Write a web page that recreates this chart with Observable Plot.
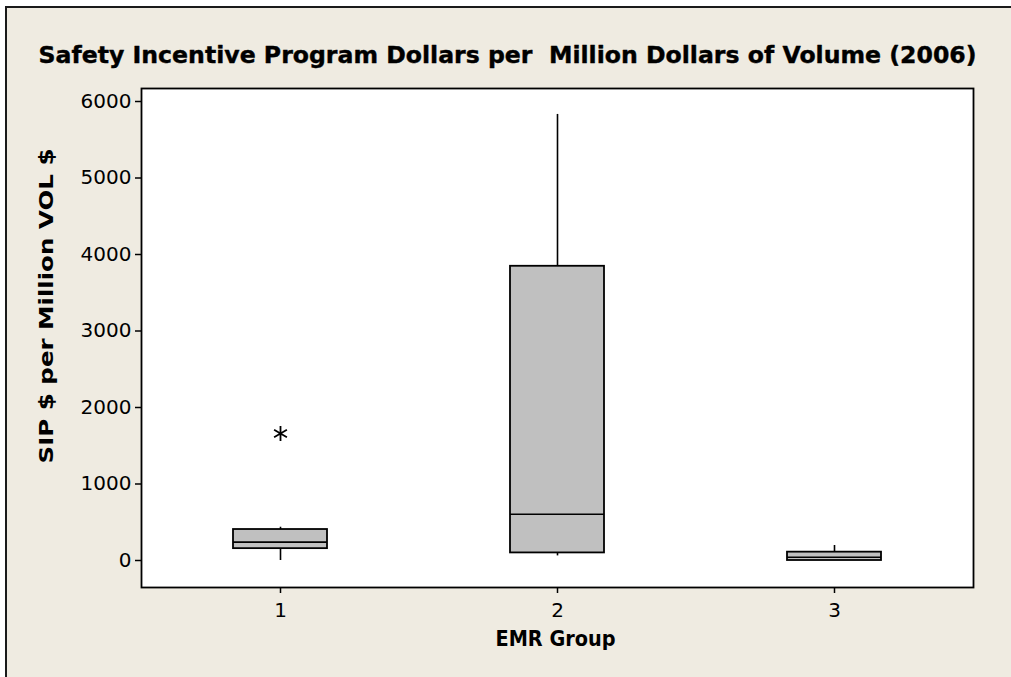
<!DOCTYPE html>
<html>
<head>
<meta charset="utf-8">
<script src="https://cdn.jsdelivr.net/npm/d3@7"></script>
<script src="https://cdn.jsdelivr.net/npm/@observablehq/plot@0.6"></script>
<style>
  html, body { margin: 0; padding: 0; background: #ffffff; overflow: hidden; }
  #wrap { position: relative; width: 1011px; height: 677px; overflow: hidden; }
  #panel { position: absolute; left: 5px; top: 6px; width: 1100px; height: 800px;
           background: #efebe1; border-left: 2px solid #1a1a1a; border-top: 2px solid #1a1a1a; }
  #chart { position: absolute; left: 0; top: 0; }
</style>
</head>
<body>
<div id="wrap"><div id="panel"></div><div id="chart"></div></div>
<script>
const title = "Safety Incentive Program Dollars per\u00a0 Million Dollars of Volume (2006)";
const yLabel = "SIP $ per Million VOL $";
const xLabel = "EMR Group";

const groups      = ["1", "2", "3"];
const whiskerLow  = [0, 60, 0];
const q1          = [155, 99, 0];
const median      = [240, 604, 43];
const q3          = [405, 3846, 109];
const whiskerHigh = [435, 5831, 196];

const outlierGroups = ["1"];
const outlierValues = [1660];

const yTicks = [0, 1000, 2000, 3000, 4000, 5000, 6000];

const boxes = groups.map((g, i) => ({
  g, lo: whiskerLow[i], q1: q1[i], med: median[i], q3: q3[i], hi: whiskerHigh[i]
}));
const outliers = outlierGroups.map((g, i) => ({g, v: outlierValues[i]}));

const chart = Plot.plot({
  width: 1011,
  height: 677,
  marginLeft: 141,
  marginRight: 38,
  marginTop: 88,
  marginBottom: 90,
  style: {background: "transparent", fontFamily: "DejaVu Sans", fontSize: "20px", color: "black", overflow: "visible"},
  x: {type: "band", domain: groups, paddingInner: 0.66, paddingOuter: 0.33, label: null},
  y: {domain: [-353, 6170], label: null},
  marks: [
    Plot.frame({fill: "white", stroke: "none"}),
    Plot.ruleX(boxes, {x: "g", y1: "lo", y2: "q1", stroke: "black", strokeWidth: 1.6}),
    Plot.ruleX(boxes, {x: "g", y1: "q3", y2: "hi", stroke: "black", strokeWidth: 1.6}),
    Plot.barY(boxes, {x: "g", y1: "q1", y2: "q3", fill: "#c0c0c0", stroke: "black", strokeWidth: 1.8}),
    Plot.tickY(boxes, {x: "g", y: "med", stroke: "black", strokeWidth: 1.6}),
    Plot.dot(outliers, {x: "g", y: "v", symbol: "asterisk", r: 7, stroke: "black", strokeWidth: 1.8}),
    Plot.frame({stroke: "black", strokeWidth: 1.8}),
    Plot.axisY({ticks: yTicks, tickFormat: d3.format("d"), tickSize: 6, tickPadding: 4, fontSize: 20, label: null, stroke: "black", strokeWidth: 1.5}),
    Plot.axisX({tickSize: 6, tickPadding: 9, fontSize: 20, label: null, stroke: "black", strokeWidth: 1.5}),
    Plot.text([title], {frameAnchor: "top-left", dx: -103, dy: -33, textAnchor: "start", lineAnchor: "middle",
      fontSize: 23, fontWeight: "bold", fill: "black", stroke: "black", strokeWidth: 0.4, className: "ttl"}),
    Plot.text([yLabel], {frameAnchor: "left", dx: -95, dy: -32, rotate: -90, textAnchor: "middle", lineAnchor: "middle",
      fontSize: 20, fontWeight: "bold", fill: "black", className: "ylab"}),
    Plot.text([xLabel], {frameAnchor: "bottom", dx: -2, dy: 52, textAnchor: "middle", lineAnchor: "middle",
      fontSize: 21, fontWeight: "bold", fill: "black", className: "xlab"})
  ]
});

function fit(cls, len) {
  chart.querySelectorAll("." + cls + " text").forEach(t => {
    t.setAttribute("textLength", len);
    t.setAttribute("lengthAdjust", "spacingAndGlyphs");
  });
}
fit("ttl", 938);
fit("ylab", 315);
fit("xlab", 120);

document.getElementById("chart").append(chart);
</script>
</body>
</html>
